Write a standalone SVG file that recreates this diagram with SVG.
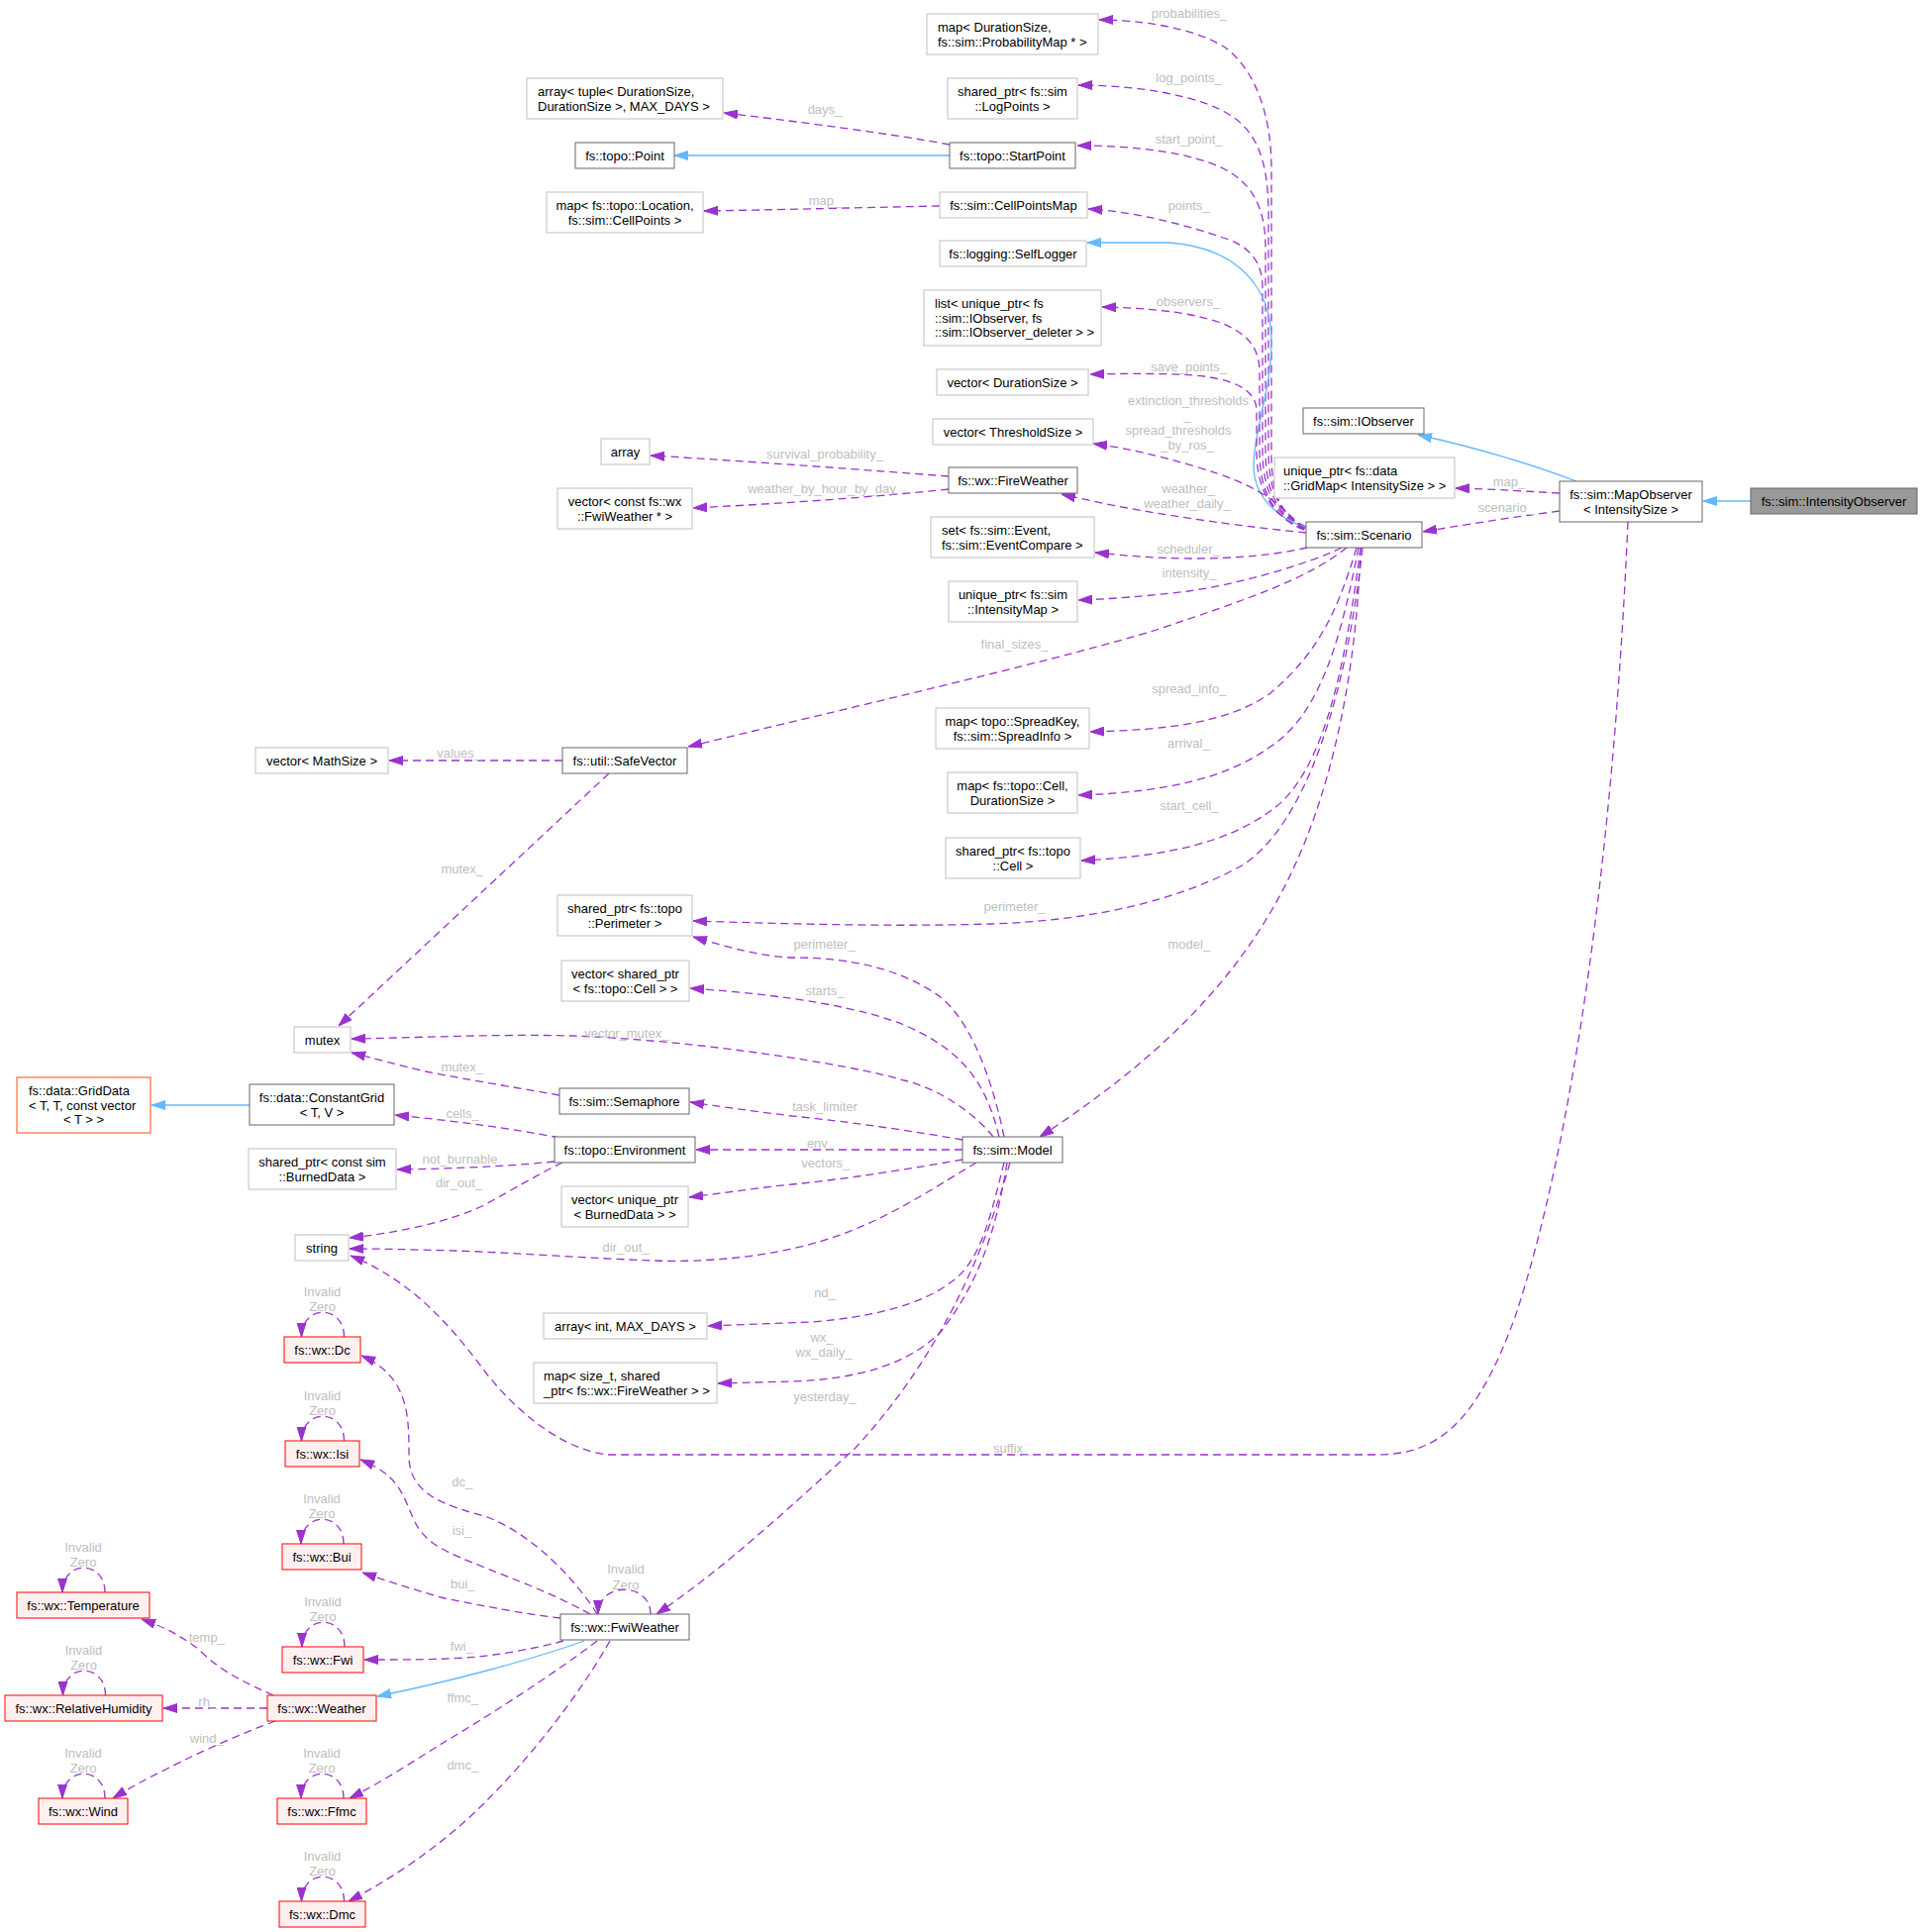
<svg xmlns="http://www.w3.org/2000/svg" width="1941" height="1951" viewBox="0 0 1941 1951">
<style>
text{font-family:"Liberation Sans",Arial,Helvetica,sans-serif;font-size:13px;fill:#000}
.c{text-anchor:middle}
.doc rect{fill:#fff;stroke:#666;stroke-width:1}
.ext rect{fill:#fff;stroke:#bfbfbf;stroke-width:1}
.red rect{fill:#fff0f0;stroke:#f00;stroke-width:1}
.org rect{fill:#fff;stroke:#ff6a33;stroke-width:1.2}
.cur rect{fill:#999;stroke:#666;stroke-width:1}
.e{fill:none;stroke:#9a32cd;stroke-width:1.3;stroke-dasharray:8,5;marker-end:url(#ap)}
.i{fill:none;stroke:#63b8ff;stroke-width:1.3;marker-end:url(#ab)}
.l{fill:#bebebe;text-anchor:middle}
</style>
<defs>
<marker id="ap" viewBox="0 0 14 10" refX="14" refY="5" markerWidth="14" markerHeight="10" markerUnits="userSpaceOnUse" orient="auto"><path d="M0,0.5 L14,5 L0,9.5 z" fill="#9a32cd" stroke="#9a32cd" stroke-width="1"/></marker>
<marker id="ab" viewBox="0 0 14 10" refX="14" refY="5" markerWidth="14" markerHeight="10" markerUnits="userSpaceOnUse" orient="auto"><path d="M0,0.5 L14,5 L0,9.5 z" fill="#63b8ff" stroke="#63b8ff" stroke-width="1"/></marker>
</defs>
<rect x="0" y="0" width="1941" height="1951" fill="#fff"/>

<g id="connectors">
<path class="e" d="M1319,532 C1295,522 1284,500 1284,460 L1284,170 C1284,120 1270,75 1240,50 C1210,28 1150,20 1110,20"/>
<path class="e" d="M1318,533 C1292,520 1281,495 1281,455 L1281,215 C1281,165 1270,135 1245,118 C1215,97 1150,86 1089,86"/>
<path class="e" d="M1318,533 C1290,522 1278,495 1278,455 L1278,250 C1278,210 1265,185 1235,170 C1205,155 1150,147 1088,147"/>
<path class="e" d="M1318,534 C1288,522 1275,495 1275,455 L1275,290 C1275,265 1262,248 1235,240 C1200,228 1150,214 1099,211"/>
<path class="i" d="M1318,532 C1295,525 1266,505 1266,470 C1266,435 1284,395 1284,345 C1284,290 1250,250 1180,245 L1098,245"/>
<path class="e" d="M1317,535 C1285,522 1272,495 1272,455 L1272,375 C1272,350 1258,335 1230,325 C1200,315 1160,311 1113,310"/>
<path class="e" d="M1317,535 C1285,522 1269,495 1269,455 L1269,415 C1269,395 1250,385 1216,380 C1190,377 1150,377 1101,378"/>
<path class="e" d="M1316,534 C1290,505 1265,488 1210,472 C1170,460 1135,452 1104,448"/>
<path class="e" d="M1319,538 C1260,532 1160,520 1072,499"/>
<path class="e" d="M1320,553 C1290,560 1250,564 1205,564 C1170,564 1135,561 1106,558"/>
<path class="e" d="M1355,553 C1320,570 1250,590 1200,597 C1160,602 1120,605 1089,606"/>
<path class="e" d="M1360,553 C1320,585 1260,605 1168,636 C1080,663 900,705 695,754"/>
<path class="e" d="M1370,553 C1350,620 1330,660 1283,700 C1240,730 1180,737 1101,739"/>
<path class="e" d="M1372,553 C1355,640 1335,720 1283,754 C1240,785 1180,800 1089,803"/>
<path class="e" d="M1374,553 C1360,660 1340,780 1283,819 C1240,850 1180,865 1092,869"/>
<path class="e" d="M1376,553 C1360,700 1320,830 1256,873 C1190,910 1100,930 1000,933 C900,936 800,933 700,930"/>
<path class="e" d="M1374,553 C1370,680 1345,800 1300,890 C1250,990 1170,1070 1050,1148"/>
<path class="e" d="M1575,516 C1530,522 1490,528 1437,537"/>
<path class="e" d="M1575,498 C1540,496 1510,494 1470,493"/>
<path class="i" d="M1592,486 C1550,470 1490,452 1432,439"/>
<path class="i" d="M1768,506 L1720,506"/>
<path class="e" d="M1644,527 C1630,850 1590,1150 1530,1330 C1490,1440 1450,1469 1390,1469 L614,1469 C575,1465 530,1435 492,1388 C460,1345 420,1295 354,1268"/>
<path class="i" d="M959,157 L681,157"/>
<path class="e" d="M959,146 C900,135 800,122 731,114"/>
<path class="e" d="M949,208 C850,210 780,212 711,213"/>
<path class="e" d="M958,481 C880,475 760,466 657,460"/>
<path class="e" d="M958,494 C880,502 800,508 700,513"/>
<path class="e" d="M568,768 L393,768"/>
<path class="e" d="M615,781 L342,1036"/>
<path class="e" d="M1014,1148 C1000,1080 975,1020 941,1001 C900,975 850,967 801,967 C770,966 740,958 700,946"/>
<path class="e" d="M1009,1148 C995,1090 970,1060 913,1035 C870,1018 800,1005 697,998"/>
<path class="e" d="M1003,1148 C985,1125 950,1100 913,1091 C860,1075 700,1050 577,1046 C500,1044 420,1048 355,1049"/>
<path class="e" d="M565,1106 C520,1098 470,1090 430,1082 C400,1075 375,1068 355,1063"/>
<path class="e" d="M972,1151 C920,1142 860,1133 800,1127 C760,1122 730,1118 697,1113"/>
<path class="e" d="M972,1161 L703,1161"/>
<path class="e" d="M972,1171 C920,1180 860,1190 800,1196 C760,1200 730,1205 696,1209"/>
<path class="e" d="M986,1174 C950,1195 900,1230 840,1250 C780,1270 710,1275 661,1273 C600,1271 520,1265 460,1263 C420,1262 390,1261 353,1261"/>
<path class="e" d="M1014,1174 C1000,1230 990,1275 960,1295 C930,1318 880,1330 820,1335 L715,1339"/>
<path class="e" d="M1017,1174 C1005,1250 985,1300 950,1345 C915,1380 860,1393 800,1395 L725,1397"/>
<path class="e" d="M1020,1174 C990,1280 940,1380 864,1462 C800,1520 730,1585 663,1630"/>
<path class="i" d="M252,1116 L153,1116"/>
<path class="e" d="M565,1149 C520,1140 460,1132 399,1126"/>
<path class="e" d="M560,1173 C520,1177 470,1180 401,1181"/>
<path class="e" d="M568,1174 C545,1185 520,1200 487,1218 C450,1235 400,1245 353,1250"/>
<path class="e" d="M603,1630 C585,1600 540,1550 492,1532 C450,1520 413,1510 413,1470 C413,1430 413,1390 365,1369"/>
<path class="e" d="M596,1630 C560,1610 520,1595 492,1584 C450,1567 430,1560 418,1535 C405,1505 402,1490 364,1474"/>
<path class="e" d="M566,1634 C530,1630 490,1622 449,1614 C420,1606 395,1598 366,1588"/>
<path class="e" d="M569,1657 C540,1665 500,1672 471,1674 C440,1676 410,1676 368,1676"/>
<path class="i" d="M590,1657 C540,1675 460,1697 381,1713"/>
<path class="e" d="M603,1657 C560,1690 490,1735 449,1759 C420,1777 385,1800 353,1816"/>
<path class="e" d="M616,1657 C580,1720 530,1780 490,1820 C450,1860 400,1895 352,1920"/>
<path class="e" d="M276,1712 C250,1700 225,1690 200,1665 C180,1650 165,1643 143,1635"/>
<path class="e" d="M270,1725 L165,1725"/>
<path class="e" d="M278,1738 C245,1750 200,1770 171,1785 C150,1795 130,1806 114,1816"/>
<path class="e" d="M347.5,1350 C347.5,1317 304.5,1317 304.5,1350"/>
<path class="e" d="M347.5,1455 C347.5,1422 304.5,1422 304.5,1455"/>
<path class="e" d="M347,1559 C347,1526 304,1526 304,1559"/>
<path class="e" d="M348,1663 C348,1630 305,1630 305,1663"/>
<path class="e" d="M347,1816 C347,1783 304,1783 304,1816"/>
<path class="e" d="M347.5,1920 C347.5,1887 304.5,1887 304.5,1920"/>
<path class="e" d="M106,1608 C106,1575 63,1575 63,1608"/>
<path class="e" d="M106.5,1712 C106.5,1679 63.5,1679 63.5,1712"/>
<path class="e" d="M106,1816 C106,1783 63,1783 63,1816"/>
<path class="e" d="M657,1630 C657,1597 604,1597 604,1630"/>

<text class="l" x="1201" y="18.3">probabilities_</text>
<text class="l" x="1200.6" y="82.8">log_points_</text>
<text class="l" x="833" y="114.5">days_</text>
<text class="l" x="1200.6" y="144.5">start_point_</text>
<text class="l" x="833" y="207">map_</text>
<text class="l" x="1200.6" y="212.1">points_</text>
<text class="l" x="1200" y="309">observers_</text>
<text class="l" x="1200.6" y="374.5">save_points_</text>
<text class="l" x="1200" y="409">extinction_thresholds</text>
<text class="l" x="1199" y="424">_</text>
<text class="l" x="1190" y="439">spread_thresholds</text>
<text class="l" x="1199" y="454">_by_ros_</text>
<text class="l" x="833" y="463.2">survival_probability_</text>
<text class="l" x="830" y="498">weather_by_hour_by_day</text>
<text class="l" x="1200" y="498">weather_</text>
<text class="l" x="1199" y="513">weather_daily_</text>
<text class="l" x="1200" y="559.3">scheduler_</text>
<text class="l" x="1201" y="583">intensity_</text>
<text class="l" x="1024.5" y="655.2">final_sizes_</text>
<text class="l" x="1200.8" y="699.5">spread_info_</text>
<text class="l" x="463.6" y="765.2">values_</text>
<text class="l" x="1200.4" y="755">arrival_</text>
<text class="l" x="1201" y="818">start_cell_</text>
<text class="l" x="466.7" y="881.9">mutex_</text>
<text class="l" x="1024.5" y="920">perimeter_</text>
<text class="l" x="832.6" y="957.7">perimeter_</text>
<text class="l" x="1200.8" y="957.8">model_</text>
<text class="l" x="833" y="1005.4">starts_</text>
<text class="l" x="632.8" y="1047.5">vector_mutex_</text>
<text class="l" x="466.7" y="1082.2">mutex_</text>
<text class="l" x="833" y="1122.1">task_limiter</text>
<text class="l" x="467" y="1128.8">cells_</text>
<text class="l" x="829" y="1158.5">env_</text>
<text class="l" x="464.5" y="1174.5">not_burnable</text>
<text class="l" x="833.7" y="1179.3">vectors_</text>
<text class="l" x="463.5" y="1199">dir_out_</text>
<text class="l" x="632" y="1263.5">dir_out_</text>
<text class="l" x="833" y="1309.5">nd_</text>
<text class="l" x="830" y="1355">wx_</text>
<text class="l" x="832" y="1370.1">wx_daily_</text>
<text class="l" x="833" y="1415">yesterday_</text>
<text class="l" x="1021.6" y="1467">suffix_</text>
<text class="l" x="1523.9" y="491.2">map_</text>
<text class="l" x="1520.8" y="516.8">scenario_</text>
<text class="l" x="466.8" y="1500.5">dc_</text>
<text class="l" x="466.4" y="1549.8">isi_</text>
<text class="l" x="467.3" y="1604.1">bui_</text>
<text class="l" x="208.8" y="1657.5">temp_</text>
<text class="l" x="466.4" y="1666.5">fwi_</text>
<text class="l" x="209.7" y="1723.1">rh_</text>
<text class="l" x="467.3" y="1718.8">ffmc_</text>
<text class="l" x="208.8" y="1759.5">wind_</text>
<text class="l" x="467.3" y="1787.3">dmc_</text>
<text class="l" x="325.5" y="1308.5">Invalid</text><text class="l" x="325.5" y="1323.5">Zero</text>
<text class="l" x="325.5" y="1413.5">Invalid</text><text class="l" x="325.5" y="1428.5">Zero</text>
<text class="l" x="325" y="1517.5">Invalid</text><text class="l" x="325" y="1532.5">Zero</text>
<text class="l" x="326" y="1621.5">Invalid</text><text class="l" x="326" y="1636.5">Zero</text>
<text class="l" x="325" y="1774.5">Invalid</text><text class="l" x="325" y="1789.5">Zero</text>
<text class="l" x="325.5" y="1878.5">Invalid</text><text class="l" x="325.5" y="1893.5">Zero</text>
<text class="l" x="84" y="1566.5">Invalid</text><text class="l" x="84" y="1581.5">Zero</text>
<text class="l" x="84.5" y="1670.5">Invalid</text><text class="l" x="84.5" y="1685.5">Zero</text>
<text class="l" x="84" y="1774.5">Invalid</text><text class="l" x="84" y="1789.5">Zero</text>
<text class="l" x="632" y="1589">Invalid</text><text class="l" x="632" y="1604.5">Zero</text>
</g>

<g id="n-intobs" class="cur"><rect x="1768" y="493" width="168" height="26"/><text class="c" x="1852" y="510.6">fs::sim::IntensityObserver</text></g>
<g id="n-mapobs" class="doc"><rect x="1575" y="486" width="144" height="41"/><text class="c" x="1647" y="504">fs::sim::MapObserver</text><text class="c" x="1647" y="518.5">&lt; IntensitySize &gt;</text></g>
<g id="n-iobs" class="doc"><rect x="1316" y="412" width="122" height="26"/><text class="c" x="1377" y="429.6">fs::sim::IObserver</text></g>
<g id="n-gridmap" class="ext"><rect x="1287" y="462" width="182" height="41"/><text x="1296" y="480">unique_ptr&lt; fs::data</text><text x="1296" y="494.5">::GridMap&lt; IntensitySize &gt; &gt;</text></g>
<g id="n-scenario" class="doc"><rect x="1319" y="527" width="117" height="26"/><text class="c" x="1377.5" y="544.6">fs::sim::Scenario</text></g>
<g id="n-prob" class="ext"><rect x="936" y="14" width="173" height="41"/><text x="947" y="32">map&lt; DurationSize,</text><text x="947" y="46.5">fs::sim::ProbabilityMap * &gt;</text></g>
<g id="n-logpts" class="ext"><rect x="957" y="79" width="131" height="41"/><text class="c" x="1022.5" y="97">shared_ptr&lt; fs::sim</text><text class="c" x="1022.5" y="111.5">::LogPoints &gt;</text></g>
<g id="n-arraytuple" class="ext"><rect x="532" y="79" width="198" height="41"/><text x="543" y="97">array&lt; tuple&lt; DurationSize,</text><text x="543" y="111.5">DurationSize &gt;, MAX_DAYS &gt;</text></g>
<g id="n-point" class="doc"><rect x="581" y="144" width="100" height="26"/><text class="c" x="631" y="161.6">fs::topo::Point</text></g>
<g id="n-startpoint" class="doc"><rect x="959" y="144" width="127" height="26"/><text class="c" x="1022.5" y="161.6">fs::topo::StartPoint</text></g>
<g id="n-maploc" class="ext"><rect x="552" y="194" width="158" height="41"/><text class="c" x="631" y="212">map&lt; fs::topo::Location,</text><text class="c" x="631" y="226.5">fs::sim::CellPoints &gt;</text></g>
<g id="n-cellpointsmap" class="ext"><rect x="949" y="194" width="149" height="26"/><text class="c" x="1023.5" y="211.6">fs::sim::CellPointsMap</text></g>
<g id="n-selflogger" class="ext"><rect x="949" y="243" width="148" height="26"/><text class="c" x="1023" y="260.6">fs::logging::SelfLogger</text></g>
<g id="n-list" class="ext"><rect x="933" y="293" width="179" height="56"/><text x="944" y="311.3">list&lt; unique_ptr&lt; fs</text><text x="944" y="325.8">::sim::IObserver, fs</text><text x="944" y="340.3">::sim::IObserver_deleter &gt; &gt;</text></g>
<g id="n-vecdur" class="ext"><rect x="946" y="373" width="153" height="26"/><text class="c" x="1022.5" y="390.6">vector&lt; DurationSize &gt;</text></g>
<g id="n-vecthr" class="ext"><rect x="942" y="423" width="162" height="26"/><text class="c" x="1023" y="440.6">vector&lt; ThresholdSize &gt;</text></g>
<g id="n-array" class="ext"><rect x="607" y="443" width="49" height="26"/><text class="c" x="631.5" y="460.6">array</text></g>
<g id="n-fireweather" class="doc"><rect x="958" y="472" width="130" height="26"/><text class="c" x="1023" y="489.6">fs::wx::FireWeather</text></g>
<g id="n-vecfwi" class="ext"><rect x="563" y="493" width="136" height="41"/><text class="c" x="631" y="511">vector&lt; const fs::wx</text><text class="c" x="631" y="525.5">::FwiWeather * &gt;</text></g>
<g id="n-set" class="ext"><rect x="940" y="522" width="165" height="41"/><text x="951" y="540">set&lt; fs::sim::Event,</text><text x="951" y="554.5">fs::sim::EventCompare &gt;</text></g>
<g id="n-intmap" class="ext"><rect x="958" y="587" width="130" height="41"/><text class="c" x="1023" y="605">unique_ptr&lt; fs::sim</text><text class="c" x="1023" y="619.5">::IntensityMap &gt;</text></g>
<g id="n-spreadkey" class="ext"><rect x="945" y="715" width="155" height="41"/><text class="c" x="1022.5" y="733">map&lt; topo::SpreadKey,</text><text class="c" x="1022.5" y="747.5">fs::sim::SpreadInfo &gt;</text></g>
<g id="n-mapcell" class="ext"><rect x="957" y="780" width="131" height="41"/><text class="c" x="1022.5" y="798">map&lt; fs::topo::Cell,</text><text class="c" x="1022.5" y="812.5">DurationSize &gt;</text></g>
<g id="n-shcell" class="ext"><rect x="955" y="846" width="136" height="41"/><text class="c" x="1023" y="864">shared_ptr&lt; fs::topo</text><text class="c" x="1023" y="878.5">::Cell &gt;</text></g>
<g id="n-safevec" class="doc"><rect x="568" y="755" width="126" height="26"/><text class="c" x="631" y="772.6">fs::util::SafeVector</text></g>
<g id="n-vecmath" class="ext"><rect x="258" y="755" width="134" height="26"/><text class="c" x="325" y="772.6">vector&lt; MathSize &gt;</text></g>
<g id="n-perim" class="ext"><rect x="563" y="904" width="136" height="41"/><text class="c" x="631" y="922">shared_ptr&lt; fs::topo</text><text class="c" x="631" y="936.5">::Perimeter &gt;</text></g>
<g id="n-vecshcell" class="ext"><rect x="567" y="970" width="129" height="41"/><text class="c" x="631.5" y="988">vector&lt; shared_ptr</text><text class="c" x="631.5" y="1002.5">&lt; fs::topo::Cell &gt; &gt;</text></g>
<g id="n-mutex" class="ext"><rect x="297" y="1037" width="57" height="26"/><text class="c" x="325.5" y="1054.6">mutex</text></g>
<g id="n-constgrid" class="doc"><rect x="252" y="1095" width="146" height="41"/><text class="c" x="325" y="1113">fs::data::ConstantGrid</text><text class="c" x="325" y="1127.5">&lt; T, V &gt;</text></g>
<g id="n-griddata" class="org"><rect x="17" y="1088" width="135" height="56"/><text x="29" y="1106.3">fs::data::GridData</text><text x="29" y="1120.8">&lt; T, T, const vector</text><text class="c" x="84.5" y="1135.3">&lt; T &gt; &gt;</text></g>
<g id="n-semaphore" class="doc"><rect x="565" y="1099" width="131" height="26"/><text class="c" x="630.5" y="1116.6">fs::sim::Semaphore</text></g>
<g id="n-shburned" class="ext"><rect x="251" y="1160" width="149" height="41"/><text class="c" x="325.5" y="1178">shared_ptr&lt; const sim</text><text class="c" x="325.5" y="1192.5">::BurnedData &gt;</text></g>
<g id="n-env" class="doc"><rect x="560" y="1148" width="142" height="26"/><text class="c" x="631" y="1165.6">fs::topo::Environment</text></g>
<g id="n-model" class="doc"><rect x="972" y="1148" width="101" height="26"/><text class="c" x="1022.5" y="1165.6">fs::sim::Model</text></g>
<g id="n-vecunique" class="ext"><rect x="567" y="1198" width="128" height="41"/><text class="c" x="631" y="1216">vector&lt; unique_ptr</text><text class="c" x="631" y="1230.5">&lt; BurnedData &gt; &gt;</text></g>
<g id="n-string" class="ext"><rect x="298" y="1247" width="54" height="26"/><text class="c" x="325" y="1264.6">string</text></g>
<g id="n-arrint" class="ext"><rect x="549" y="1326" width="165" height="26"/><text class="c" x="631.5" y="1343.6">array&lt; int, MAX_DAYS &gt;</text></g>
<g id="n-mapsize" class="ext"><rect x="539" y="1376" width="185" height="41"/><text x="549" y="1394">map&lt; size_t, shared</text><text x="549" y="1408.5">_ptr&lt; fs::wx::FireWeather &gt; &gt;</text></g>
<g id="n-dc" class="red"><rect x="287" y="1350" width="77" height="26"/><text class="c" x="325.5" y="1367.6">fs::wx::Dc</text></g>
<g id="n-isi" class="red"><rect x="288" y="1455" width="75" height="26"/><text class="c" x="325.5" y="1472.6">fs::wx::Isi</text></g>
<g id="n-bui" class="red"><rect x="285" y="1559" width="80" height="26"/><text class="c" x="325" y="1576.6">fs::wx::Bui</text></g>
<g id="n-temp" class="red"><rect x="17" y="1608" width="134" height="26"/><text class="c" x="84" y="1625.6">fs::wx::Temperature</text></g>
<g id="n-fwi" class="red"><rect x="285" y="1663" width="82" height="26"/><text class="c" x="326" y="1680.6">fs::wx::Fwi</text></g>
<g id="n-fwiweather" class="doc"><rect x="566" y="1630" width="130" height="26"/><text class="c" x="631" y="1647.6">fs::wx::FwiWeather</text></g>
<g id="n-rh" class="red"><rect x="5" y="1712" width="159" height="26"/><text class="c" x="84.5" y="1729.6">fs::wx::RelativeHumidity</text></g>
<g id="n-weather" class="red"><rect x="270" y="1712" width="110" height="26"/><text class="c" x="325" y="1729.6">fs::wx::Weather</text></g>
<g id="n-wind" class="red"><rect x="39" y="1816" width="90" height="26"/><text class="c" x="84" y="1833.6">fs::wx::Wind</text></g>
<g id="n-ffmc" class="red"><rect x="280" y="1816" width="90" height="26"/><text class="c" x="325" y="1833.6">fs::wx::Ffmc</text></g>
<g id="n-dmc" class="red"><rect x="282" y="1920" width="87" height="26"/><text class="c" x="325.5" y="1937.6">fs::wx::Dmc</text></g>
</svg>
